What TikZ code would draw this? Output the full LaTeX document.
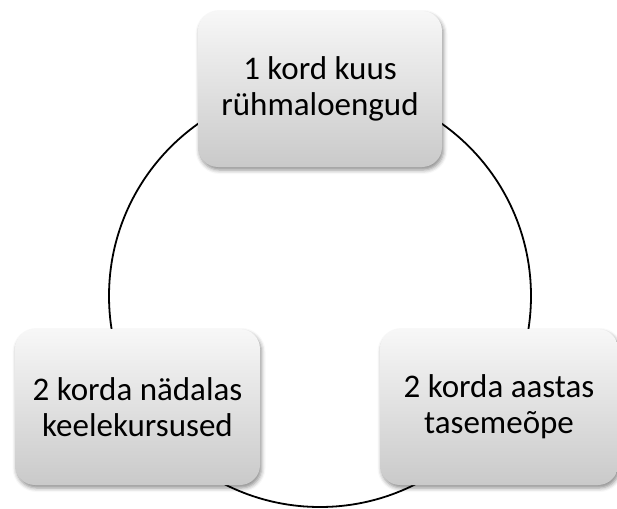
\documentclass[tikz,border=0pt]{standalone}
\usepackage{fontspec}
\setmainfont{Carlito}
\usetikzlibrary{shadows.blur}

\tikzset{
  stagebox/.style={
    rectangle, rounded corners=20pt,
    minimum height=156pt, inner sep=0pt,
    top color=white!97!black, bottom color=white!79!black,
    draw=none,
    blur shadow={shadow xshift=1.5pt, shadow yshift=-3pt,
                 shadow opacity=45, shadow blur radius=4pt},
    align=center, font=\fontsize{33pt}{36pt}\selectfont, text=black
  },
  cycle ring/.style={circle, draw=black, line width=1.8pt,
    minimum size=422pt, inner sep=0pt}
}

\begin{document}
\begin{tikzpicture}[x=1pt, y=-1pt]
  \useasboundingbox (0,0) rectangle (617,508);

  % cycle behind the three stages
  \node[cycle ring] (ring) at (320,296) {};

  % stages
  \node[stagebox, minimum width=244pt] (monthly) at (320,89)
    {1 kord kuus\\rühmaloengud};
  \node[stagebox, minimum width=245pt] (weekly) at (137.5,407)
    {2 korda nädalas\\keelekursused};
  \node[stagebox, minimum width=238pt] (yearly) at (499,407)
    {2 korda aastas\\tasemeõpe};
\end{tikzpicture}
\end{document}
